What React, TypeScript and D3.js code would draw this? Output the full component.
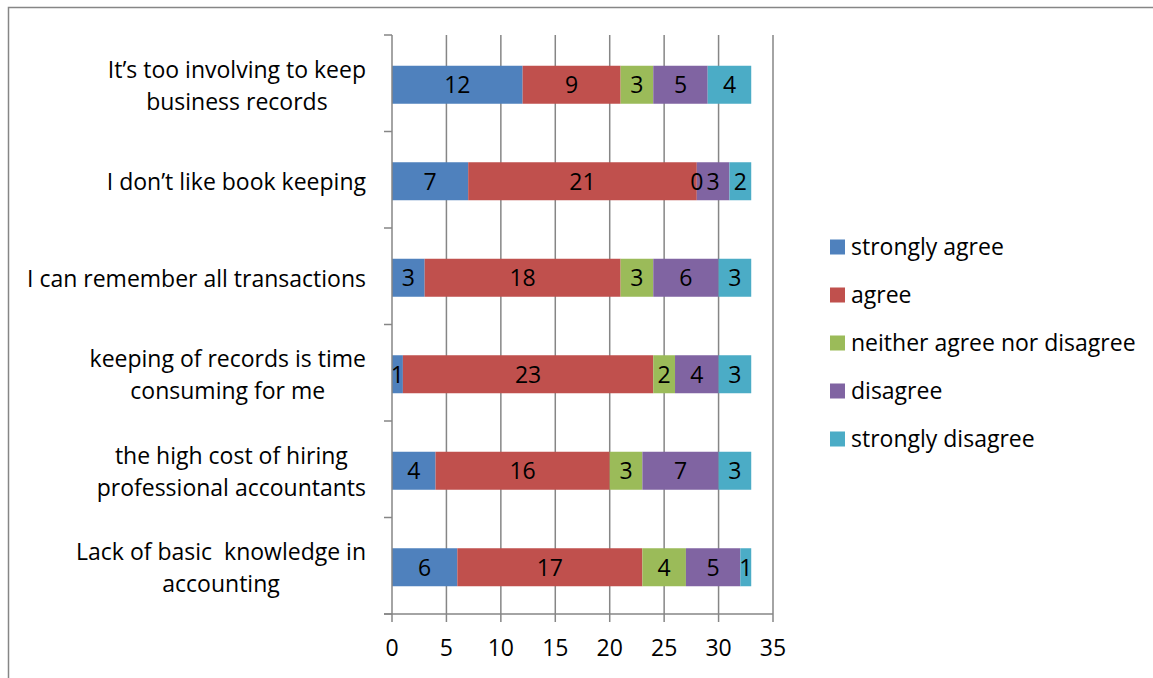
import React from "react";
import * as d3 from "d3";

const categories: string[][] = [
  ["It’s too involving to keep", "business records"],
  ["I don’t like book keeping"],
  ["I can remember all transactions"],
  ["keeping of records is time", "consuming for me"],
  ["the high cost of hiring", "professional accountants"],
  ["Lack of basic  knowledge in", "accounting"],
];
const seriesNames = ["strongly agree", "agree", "neither agree nor disagree", "disagree", "strongly disagree"];
const stronglyAgree = [12, 7, 3, 1, 4, 6];
const agree = [9, 21, 18, 23, 16, 17];
const neither = [3, 0, 3, 2, 3, 4];
const disagree = [5, 3, 6, 4, 7, 5];
const stronglyDisagree = [4, 2, 3, 3, 3, 1];
const xTicks = [0, 5, 10, 15, 20, 25, 30, 35];
const colors = ["#4F81BD", "#C0504D", "#9BBB59", "#8064A2", "#4BACC6"];

const W = 1153, H = 678;
const FONT = "'Open Sans', sans-serif";
const FS = 23;

function measure(t: string): number {
  const c = document.createElement("canvas").getContext("2d")!;
  c.font = `${FS}px 'Open Sans'`;
  return c.measureText(t).width;
}

export default function App() {
  const series = [stronglyAgree, agree, neither, disagree, stronglyDisagree];
  const rows = categories.map((c, i) => {
    const o: any = { idx: i };
    seriesNames.forEach((s, k) => (o[s] = series[k][i]));
    return o;
  });
  const stack = d3.stack<any>().keys(seriesNames)(rows);
  const x = d3.scaleLinear().domain([0, 35]).range([392, 773]);
  const yb = d3.scaleBand<number>().domain(d3.range(categories.length)).range([35, 614]);
  const barH = 38;
  const barY = (i: number) => yb(i)! + yb.bandwidth() / 2 - barH / 2 + 1.5;
  return (
    <svg width={W} height={H} style={{ position: "fixed", left: 0, top: 0, background: "#fff" }} fontFamily={FONT}>
      <rect x={8.5} y={7.5} width={W + 10} height={H + 10} fill="#fff" stroke="#868686" strokeWidth={1.5} />
      {xTicks.slice(1).map((t) => (
        <line key={t} x1={x(t)} x2={x(t)} y1={35} y2={614} stroke="#868686" strokeWidth={1.5} />
      ))}
      {stack.map((s, k) => (
        <g key={k} fill={colors[k]}>
          {s.map((d, i) => (
            <rect key={i} x={x(d[0])} y={barY(i)} width={x(d[1]) - x(d[0])} height={barH} />
          ))}
        </g>
      ))}
      {stack.map((s, k) => (
        <g key={"l" + k}>
          {s.map((d, i) => (
            <text key={i} x={(x(d[0]) + x(d[1])) / 2} y={barY(i) + barH / 2} dy="0.36em" textAnchor="middle" fontSize={FS} fill="#000">
              {d[1] - d[0]}
            </text>
          ))}
        </g>
      ))}
      <line x1={392} x2={392} y1={35} y2={614} stroke="#868686" strokeWidth={1.5} />
      {d3.range(categories.length + 1).map((i) => (
        <line key={i} x1={384} x2={392} y1={35 + i * yb.step()} y2={35 + i * yb.step()} stroke="#868686" strokeWidth={1.5} />
      ))}
      <line x1={384} x2={773} y1={614} y2={614} stroke="#868686" strokeWidth={1.5} />
      {xTicks.map((t) => (
        <g key={t}>
          <line x1={x(t)} x2={x(t)} y1={614} y2={622} stroke="#868686" strokeWidth={1.5} />
          <text x={x(t)} y={648} dy="0.36em" textAnchor="middle" fontSize={FS}>{t}</text>
        </g>
      ))}
      {categories.map((lines, i) => {
        const cy = yb(i)! + yb.bandwidth() / 2 + 2;
        const maxW = Math.max(...lines.map(measure));
        const cx = 366 - maxW / 2;
        return (
          <g key={i}>
            {lines.map((ln, j) => (
              <text key={j} x={cx} y={cy + (j - (lines.length - 1) / 2) * 32} dy="0.36em" textAnchor="middle" fontSize={FS} style={{ whiteSpace: "pre" }}>{ln}</text>
            ))}
          </g>
        );
      })}
      {seriesNames.map((s, k) => (
        <g key={s} transform={`translate(830, ${247 + k * 48})`}>
          <rect x={0} y={-7.5} width={15} height={15} fill={colors[k]} />
          <text x={21} y={0} dy="0.36em" fontSize={FS}>{s}</text>
        </g>
      ))}
    </svg>
  );
}
